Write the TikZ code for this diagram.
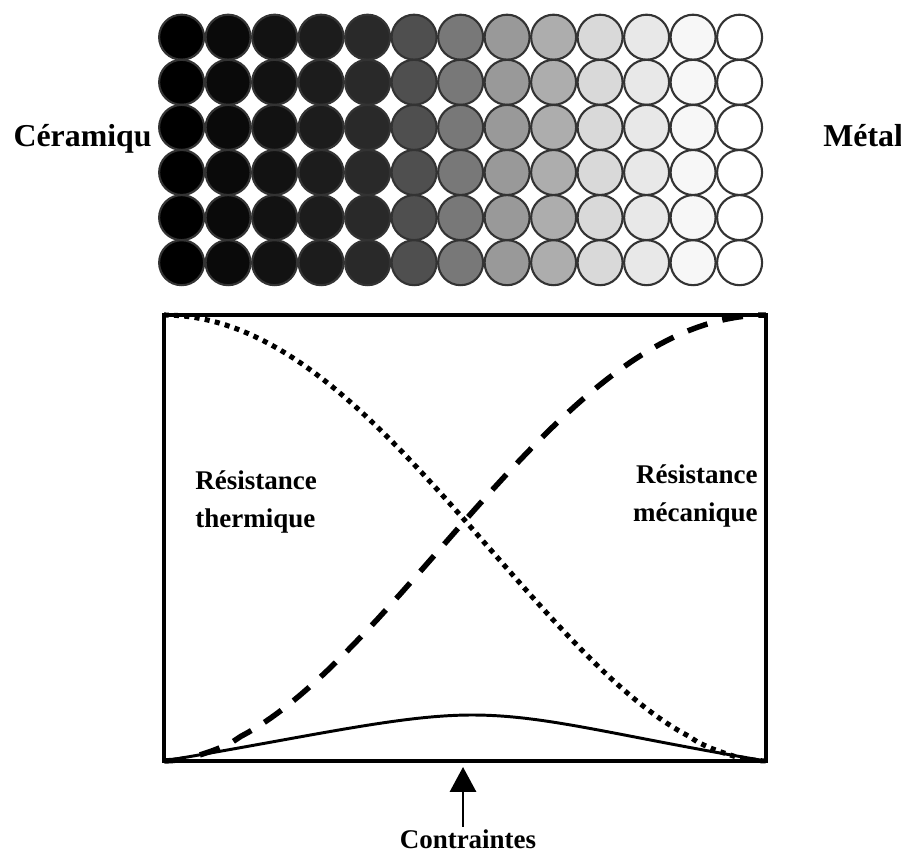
\documentclass[tikz,border=0pt]{standalone}
\usepackage{fontspec}
\setmainfont{Liberation Serif}
\usetikzlibrary{arrows.meta}

\begin{document}
\begin{tikzpicture}[>={Triangle[width=12.3pt,length=11.8pt]},
	bead/.style={draw=black!80,line width=1pt},
	side/.style={font=\fontsize{15.1}{17}\selectfont\bfseries,inner sep=0pt},
	lbl/.style={font=\fontsize{12.8}{18.2}\selectfont\bfseries,inner sep=0pt}]
		\useasboundingbox (0,0) rectangle (15.017,14.25);
		% beads: ceramic (black) to metal (white)
		\foreach \i/\g in {0/100,1/96,2/93,3/89,4/84,5/69,6/53,7/40,8/32,9/15,10/9,11/3,12/0}
			\foreach \j in {0,...,5}
				\draw[bead,fill=black!\g] (3.027+0.775*\i,13.63-0.7517*\j) circle (0.375);
		\node[side,anchor=base east] (ceram) at (2.533,11.8) {Céramiqu};
		\node[side,anchor=base west] (metal) at (13.717,11.8) {Métal};
		% box with the three curves
		\draw[line width=1.6pt] (2.733,1.567) rectangle (12.767,9.0);
		\draw[line width=2.4pt,dash pattern=on 2.4pt off 2.5pt] plot[domain=0.0005:1,samples=80] ({2.733+10.033*(1-\x)},{1.567+7.433*(1-cos(180*pow(\x,0.93)))/2});
		\draw[line width=2.6pt,dash pattern=on 9.9pt off 7.3pt] plot[domain=0.0005:1,samples=80] ({2.733+10.033*\x},{1.567+7.433*(1-cos(180*pow(\x,0.93)))/2});
		\draw[line width=1.4pt] (2.733,1.567) .. controls (5.217,1.983) and (6.667,2.333) .. (7.867,2.333) .. controls (9.117,2.333) and (10.267,1.983) .. (12.767,1.567);
		\node[lbl,align=left,anchor=base west] (therm) at (3.25,5.45) {Résistance\\thermique};
		\node[lbl,align=right,anchor=base east] (meca) at (12.633,5.55) {Résistance\\mécanique};
		\node[lbl,anchor=base,inner sep=1.5pt] (contr) at (7.8,0.1) {Contraintes};
		\coordinate (tip) at (7.717,1.467);
		\draw[->,line width=1.4pt] (contr.north -| tip) -- (tip);
	\end{tikzpicture}
\end{document}
